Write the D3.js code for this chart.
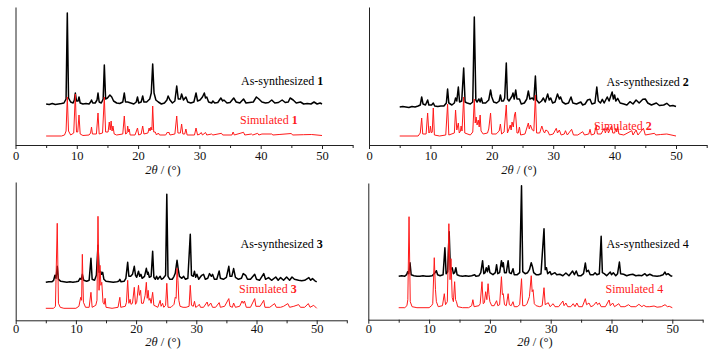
<!DOCTYPE html>
<html>
<head>
<meta charset="utf-8">
<script src="https://cdn.jsdelivr.net/npm/d3@7"></script>
<style>
  html, body { margin: 0; padding: 0; background: #ffffff; }
  svg { display: block; }
  text { font-family: "Liberation Serif", "Times New Roman", serif; }
</style>
</head>
<body>
<svg id="chart" width="710" height="354"></svg>
<script>
// ---- Data (2θ in degrees, intensity in arbitrary units) ----
const xMajorTicks = [0, 10, 20, 30, 40, 50];
const xMinorTicks = [5, 15, 25, 35, 45, 55];
const sampleIds = ["1", "2", "3", "4"];
const expLabel = "As-synthesized ";
const simLabel = "Simulated ";
const axisTitle = ["2", "θ", " / (°)"];

const exp1 = [[5.0,41],[5.5,40.5],[6.0,41.5],[6.5,40.5],[7.0,41],[7.5,41.5],[7.9,42],[8.25,46],[8.45,132],[8.65,47],[9.0,43],[9.4,42],[9.6,45],[9.76,52],[9.95,44],[10.2,44],[10.36,48],[10.55,42],[11.0,41],[11.5,41.5],[12.0,41],[12.25,43],[12.4,45],[12.6,42],[13.0,42],[13.3,45],[13.46,52],[13.65,43],[14.0,42],[14.3,46],[14.49,80],[14.7,46],[15.0,47],[15.4,50],[15.7,48],[16.0,44],[16.5,42],[17.0,41.5],[17.5,43],[17.75,52],[17.95,43],[18.3,43],[18.8,42],[19.3,41],[19.7,43],[19.9,48],[20.1,42],[20.5,43],[20.75,49],[20.95,43],[21.4,43],[21.9,46],[22.15,52],[22.38,81],[22.6,52],[22.9,45],[23.3,43],[23.8,41],[24.3,42],[24.7,45],[24.9,49],[25.2,45],[25.6,42],[26.0,44],[26.3,59],[26.55,46],[26.9,46],[27.1,51],[27.4,45],[27.8,48],[28.1,43],[28.6,42],[29.1,43],[29.45,52],[29.7,44],[30.1,45],[30.5,48],[30.8,52],[31.0,47],[31.2,48],[31.5,43],[32.0,42],[32.2,44],[32.5,42],[33.0,42.5],[33.5,47],[33.8,44],[34.0,45],[34.5,42],[35.0,42.5],[35.6,47],[36.0,43],[36.6,42],[37.2,46],[37.6,42],[38.2,42.5],[38.8,43],[39.3,48],[39.7,46],[40.2,43],[40.8,42],[41.3,42.5],[41.8,45],[42.3,42],[42.9,42.5],[43.5,45],[44.0,42.5],[44.5,43],[44.8,47],[45.3,45],[45.8,42],[46.5,43],[47.0,41],[47.6,41.5],[48.2,41],[48.7,43],[49.2,41],[49.7,42],[50.0,41]];
const sim1 = [[5.0,9],[7.5,9],[8.0,10],[8.25,14],[8.45,48],[8.65,14],[9.0,10],[9.5,12],[9.76,51],[9.95,13],[10.15,13],[10.36,30],[10.55,11],[11.0,9.5],[12.0,10],[12.25,12],[12.4,18],[12.55,11],[13.2,11],[13.46,32],[13.65,11],[14.2,12],[14.49,48],[14.7,13],[15.1,13],[15.3,23],[15.45,15],[15.6,24],[15.75,14],[15.9,19],[16.1,11],[16.5,10],[17.5,11],[17.75,29],[17.95,11],[18.2,12],[18.3,19],[18.45,13],[18.55,16],[18.7,10],[19.5,10],[19.9,17],[20.1,10],[20.5,11],[20.75,19],[20.95,11],[21.6,12],[21.8,17],[21.95,14],[22.1,18],[22.25,15],[22.38,39],[22.55,13],[22.8,13],[23.0,10],[23.3,12],[23.5,10],[24.5,10],[24.8,13],[24.9,12],[25.0,13],[25.2,10],[26.0,11],[26.3,29],[26.5,12],[26.9,12],[27.1,21],[27.3,11],[27.6,11],[27.8,16],[28.0,10],[29.2,10],[29.45,17],[29.7,10],[30.1,11],[30.3,12.5],[30.5,10],[31.0,12.5],[31.2,10],[32.0,11],[32.2,10],[33.6,11.7],[33.8,10],[35.3,10],[35.5,13],[35.7,10],[37.2,12.7],[37.4,10],[38.5,11],[38.7,10],[39.5,11.7],[39.7,10],[40.2,11],[41.8,11],[42.0,10],[43.0,10.5],[45.0,11.5],[45.2,10],[47.0,10.3],[48.3,10.5],[50.0,9.5]];

const exp2 = [[5.0,38],[5.5,38.5],[6.0,38],[6.5,37.5],[7.0,38.5],[7.5,38],[8.0,39],[8.35,40],[8.58,48],[8.8,41],[9.2,40],[9.55,45],[9.75,40],[10.2,40],[10.47,42],[10.7,39],[11.2,38.5],[11.7,39],[12.2,39],[12.6,42],[12.8,56],[13.0,42],[13.5,40],[13.9,42],[14.1,47],[14.3,44],[14.55,58],[14.75,43],[15.1,44],[15.42,77],[15.65,43],[16.0,42],[16.5,41],[16.9,43],[17.15,128],[17.4,45],[17.6,43],[17.9,46],[18.1,43],[18.3,47],[18.5,42],[19.0,42],[19.5,45],[19.8,55],[20.0,48],[20.3,43],[20.8,42],[21.2,44],[21.4,50],[21.6,44],[21.9,44],[22.1,47],[22.36,82],[22.55,46],[22.8,44],[23.0,46],[23.3,49],[23.45,52],[23.65,46],[23.9,55],[24.1,46],[24.5,46],[24.8,41],[25.3,42],[25.7,46],[25.95,54],[26.2,46],[26.6,47],[26.85,45],[27.1,69],[27.3,45],[27.7,42],[28.1,44],[28.4,47],[28.7,43],[29.1,51],[29.35,45],[29.6,47],[29.9,42],[30.3,43],[30.7,51],[31.0,46],[31.2,48],[31.5,43],[32.0,41],[32.5,42],[32.9,48],[33.2,42],[33.8,41],[34.5,43],[34.8,40],[35.2,41],[35.6,45],[36.0,45.7],[36.3,41],[36.8,42],[37.1,58],[37.35,44],[37.7,42],[38.0,45.7],[38.3,42],[38.8,48],[39.1,44],[39.6,53],[39.8,46],[40.0,50],[40.2,44],[40.5,46.7],[40.9,42],[41.5,41],[42.0,40],[42.5,43.3],[43.0,41],[43.5,45],[44.0,42],[44.6,45.7],[45.0,46],[45.4,42],[46.0,40],[46.8,42],[47.3,39.5],[48.0,40],[48.5,41.7],[49.0,39],[49.5,39.5],[50.0,38.5]];
const sim2 = [[5.0,9],[8.0,9],[8.35,12],[8.58,27],[8.75,11],[9.3,11],[9.55,32],[9.75,12],[9.9,13],[10.0,19],[10.15,12],[10.3,13],[10.47,37],[10.65,10],[11.5,9],[12.5,10],[12.8,41],[13.0,10],[13.9,12],[14.1,35],[14.3,15],[14.55,22],[14.7,12],[14.9,14],[15.0,19],[15.15,14],[15.42,48],[15.6,12],[16.5,10],[16.9,13],[17.15,46],[17.3,22],[17.45,28],[17.6,20],[17.8,25],[17.95,18],[18.1,30],[18.25,14],[18.6,11],[19.3,12],[19.5,16],[19.8,32],[20.0,11],[20.7,11],[21.2,14],[21.4,21],[21.6,11],[22.0,13],[22.36,40],[22.55,12],[22.8,16],[23.0,20],[23.15,15],[23.3,23],[23.5,18],[23.7,30],[23.85,33],[24.1,12],[24.3,12],[24.5,18],[24.7,10],[25.4,11],[25.7,17],[25.95,22],[26.1,16],[26.3,20],[26.6,15],[26.85,14],[27.1,50],[27.3,12],[27.8,12],[28.15,19],[28.4,14],[28.6,12],[28.8,15],[29.1,14],[29.4,10],[30.0,11],[30.5,16.7],[30.7,12],[31.0,15],[31.3,10],[31.8,11],[32.0,14.3],[32.3,10],[33.0,15.7],[33.3,10],[34.0,10],[34.8,13.3],[35.1,10],[35.8,11],[36.0,15.7],[36.2,10],[36.7,11],[37.0,19.3],[37.2,11],[37.8,11],[38.3,16.7],[38.5,12],[38.8,17.7],[39.0,12],[39.5,19],[39.7,12],[40.0,12],[40.2,16.7],[40.35,13],[40.5,18.3],[40.7,11],[41.5,10],[42.8,14.3],[43.0,10],[43.5,15],[43.8,10],[44.7,16.7],[45.0,10],[46.5,11.7],[46.7,10],[47.5,10.5],[48.5,11],[50.0,9]];

const exp3 = [[5.0,38],[5.5,38.5],[6.0,38.5],[6.3,40],[6.52,45],[6.7,42],[6.9,54],[7.1,41],[7.5,39],[8.0,38.5],[8.5,38],[9.0,38.5],[9.5,38],[10.0,38.5],[10.4,39],[10.68,42],[10.9,41],[11.07,46],[11.3,40],[11.8,39],[12.2,40],[12.5,62],[12.7,41],[13.1,40],[13.4,45],[13.67,75],[13.85,48],[14.1,49],[14.25,46],[14.45,48],[14.65,41],[15.0,39],[15.6,38.5],[16.2,38],[16.8,38.5],[17.1,39],[17.3,41],[17.5,38.5],[18.0,39],[18.3,42],[18.6,58],[18.8,44],[19.1,44],[19.4,46],[19.7,54],[19.9,45],[20.1,43],[20.4,49],[20.6,44],[20.8,46],[21.0,42],[21.4,44],[21.7,52],[21.9,46],[22.0,48],[22.2,43],[22.5,44],[22.75,69],[22.95,43],[23.2,41],[23.4,44],[23.6,41],[24.0,44],[24.2,41],[24.5,42],[24.9,45],[25.1,126],[25.3,44],[25.6,41],[26.0,41],[26.3,44],[26.5,47],[26.8,60],[27.0,51],[27.2,44],[27.6,42],[27.9,44],[28.2,41],[28.6,42],[29.0,86],[29.2,45],[29.5,44],[29.7,49],[29.9,43],[30.1,46],[30.4,41],[30.9,45],[31.2,46],[31.5,41],[31.9,42],[32.2,46.7],[32.5,44],[32.7,46],[33.0,41],[33.4,41],[33.8,49.3],[34.0,42],[34.5,41],[35.0,43],[35.4,54],[35.6,44],[35.9,44],[36.2,51.7],[36.5,43],[37.0,41],[37.5,42],[37.8,46.7],[38.2,45],[38.5,41],[39.0,41],[39.7,46],[40.0,41],[40.5,40],[41.2,46.7],[41.5,41],[42.0,42.7],[42.5,40],[43.2,43.3],[43.6,40],[44.0,42.7],[44.5,40],[45.0,43.3],[45.5,40],[45.9,43.3],[46.3,41],[47.0,40],[47.5,39.5],[48.0,40],[48.7,42.7],[49.0,40],[49.3,41.7],[49.7,39.5],[50.0,38.5]];
const sim3 = [[5.0,12],[6.3,12],[6.6,14],[6.9,97],[7.1,17],[7.4,13],[8.0,12],[10.0,12],[10.5,14],[10.8,23],[10.95,20],[11.07,66],[11.25,18],[11.6,13],[12.2,13],[12.5,28],[12.7,13],[13.3,15],[13.5,20],[13.67,104],[13.85,30],[14.0,55],[14.15,35],[14.3,38],[14.5,18],[14.7,16],[14.85,22],[15.0,13],[16.0,12],[17.0,13],[17.3,23],[17.45,13],[18.2,14],[18.4,18],[18.6,40],[18.8,17],[19.0,21],[19.15,16],[19.4,17],[19.7,33],[19.9,16],[20.1,18],[20.4,35],[20.55,25],[20.75,30],[20.9,17],[21.2,17],[21.5,25],[21.7,38],[21.85,22],[22.0,30],[22.15,20],[22.3,22],[22.5,17],[22.75,28],[22.95,15],[23.3,14],[23.6,13],[24.0,20],[24.15,14],[24.4,17],[24.6,13],[24.9,15],[25.1,37],[25.3,13],[25.8,13],[26.3,16],[26.5,23],[26.65,22],[26.8,52],[26.95,40],[27.1,20],[27.3,14],[27.8,13],[28.3,13],[28.8,14],[29.0,35],[29.2,15],[29.5,14],[29.7,19],[29.9,13],[30.2,14],[30.5,16],[30.7,13],[31.2,13],[31.8,18.3],[32.0,14],[32.4,17.3],[32.7,13],[33.2,13],[33.8,17.7],[34.0,13],[34.7,14],[35.4,21.7],[35.6,14],[36.0,13],[36.2,17.3],[36.5,13],[37.2,14],[37.6,19.3],[37.8,17],[38.0,19.3],[38.3,13],[39.0,13],[39.7,21.7],[39.9,14],[40.6,14],[41.2,20],[41.4,13],[42.2,13],[43.0,16.7],[43.3,13],[44.0,13],[44.5,14],[45.2,16.7],[45.5,13],[46.2,14],[47.0,15.7],[47.3,13],[48.0,13],[48.6,16.7],[48.9,13],[49.5,15],[50.0,12]];

const exp4 = [[5.0,43.5],[5.5,44],[6.0,43.5],[6.3,45],[6.47,48],[6.65,46],[6.86,57],[7.05,45],[7.5,44],[8.0,43.5],[8.5,43.5],[9.0,44],[9.5,43.5],[10.0,43.5],[10.5,44],[10.97,47],[11.2,49],[11.4,45],[11.8,44],[12.3,45],[12.6,72],[12.8,46],[13.05,48],[13.3,88],[13.5,50],[13.8,52],[14.0,46],[14.2,47],[14.4,52],[14.6,45],[15.0,44],[15.5,43.5],[16.0,44],[16.5,43.5],[17.0,44],[17.5,45],[17.7,43.5],[18.2,44],[18.5,47],[18.8,59],[19.0,46],[19.2,47],[19.4,52],[19.6,48],[19.8,54],[20.0,47],[20.5,45],[20.9,47],[21.1,55],[21.3,46],[21.6,47],[21.9,59],[22.05,53],[22.2,57],[22.4,47],[22.7,47],[23.0,59],[23.2,47],[23.5,46],[23.8,51],[24.0,45],[24.5,45],[24.9,47],[25.2,134],[25.4,48],[25.8,46],[26.2,47],[26.5,50],[26.8,57],[27.0,53],[27.2,47],[27.6,45],[28.0,45],[28.4,46],[28.9,91],[29.1,50],[29.3,52],[29.5,46],[29.9,48],[30.1,45],[30.7,47],[31.0,45],[31.5,45.4],[32.0,44],[32.5,46.7],[33.0,44],[33.6,48.7],[33.9,45],[34.2,48.7],[34.5,44],[35.0,44],[35.4,46],[35.7,56.7],[35.9,48],[36.2,49.4],[36.5,45],[37.0,45],[37.3,47],[37.6,45],[38.0,46],[38.3,83.4],[38.5,47],[38.8,46],[39.2,44],[39.8,47.7],[40.0,45],[40.3,47],[40.7,44],[41.0,46],[41.3,57.7],[41.5,46],[42.0,45.4],[42.5,44],[43.0,45],[43.5,45.4],[44.0,44],[44.5,44.5],[45.0,44],[45.5,46],[45.8,44],[46.3,45.4],[46.8,44],[47.5,43.5],[48.0,44],[48.5,45],[48.8,47.7],[49.0,45],[49.3,46],[49.7,44],[50.0,43.5]];
const sim4 = [[5.0,12],[6.0,12],[6.35,14],[6.5,20],[6.7,103],[6.9,18],[7.2,13],[8.0,12],[10.0,12],[10.4,14],[10.6,16],[10.85,62],[11.05,30],[11.2,18],[11.5,13],[12.2,14],[12.5,26],[12.7,15],[13.0,18],[13.25,96],[13.45,40],[13.6,61],[13.8,22],[14.0,18],[14.2,38],[14.35,20],[14.5,18],[14.7,13],[15.5,12],[16.5,12],[17.0,14],[17.2,20],[17.4,13],[18.2,14],[18.4,16],[18.7,38],[18.9,16],[19.1,17],[19.3,28],[19.5,20],[19.7,36],[19.85,25],[20.0,18],[20.3,14],[20.7,14],[21.1,19],[21.3,14],[21.6,15],[21.9,43],[22.05,25],[22.2,26],[22.4,15],[22.7,14],[23.0,26],[23.2,15],[23.5,14],[23.8,18],[24.0,13],[24.5,13],[24.9,15],[25.2,41],[25.4,14],[25.8,14],[26.1,16],[26.5,23],[26.8,44],[26.95,28],[27.1,30],[27.3,16],[27.6,14],[28.2,13],[28.6,14],[28.9,32],[29.1,15],[29.6,17],[29.9,13],[30.4,16],[30.7,13],[31.3,13],[32.0,18.7],[32.2,14],[32.5,16.7],[32.8,13],[33.3,13],[33.7,16],[34.0,13],[34.3,16.7],[34.6,13],[35.2,13],[35.7,21],[35.9,15],[36.3,16.7],[36.6,13],[37.0,14],[37.5,17.7],[37.7,15],[38.0,16.7],[38.3,13],[39.0,13],[39.6,19.7],[39.8,14],[40.2,16.7],[40.5,13],[41.2,16],[41.5,13],[42.2,13],[42.8,15],[43.2,13],[44.0,13],[44.5,15.4],[45.0,13],[45.3,14.4],[45.7,13],[46.3,13],[47.0,13.7],[47.5,12.5],[48.2,13],[48.8,15],[49.2,13],[49.5,13.4],[50.0,12]];

const expSeries = [exp1, exp2, exp3, exp4];
const simSeries = [sim1, sim2, sim3, sim4];

// ---- Layout (pixels) ----
const panels = [
  { x0: 15.5, x50: 322.0, ytop: 7,   ybot: 145.0, pad: 2, expPos: [241, 85],   simPos: [240, 124],   titleX: 163, titleY: 174, boldId: true },
  { x0: 369.0, x50: 676.0, ytop: 7,  ybot: 145.0, pad: 2, expPos: [606.5, 86], simPos: [594, 130],   titleX: 519, titleY: 174, boldId: true },
  { x0: 15.7, x50: 316.7, ytop: 182, ybot: 320.3, pad: 0, expPos: [240.5, 248], simPos: [239, 293],  titleX: 163, titleY: 346, boldId: true },
  { x0: 368.3, x50: 672.3, ytop: 183, ybot: 319.7, pad: 0, expPos: [606.5, 248], simPos: [605.5, 293], titleX: 535, titleY: 346, boldId: false }
];

const svg = d3.select("#chart");
svg.append("rect").attr("width", 710).attr("height", 354).attr("fill", "#ffffff");

panels.forEach((p, i) => {
  const xEnd = p.x0 + 55 * (p.x50 - p.x0) / 50;
  const x = d3.scaleLinear().domain([0, 55]).range([p.x0, xEnd]);
  const y = d3.scaleLinear().domain([0, 138]).range([p.ybot, p.ybot - 138]);
  const g = svg.append("g");

  // x axis major
  const ax = g.append("g").attr("transform", `translate(0,${p.ybot})`)
    .call(d3.axisBottom(x).tickValues(xMajorTicks).tickSize(4).tickSizeOuter(0).tickPadding(p.pad).tickFormat(d3.format("d")));
  ax.attr("font-family", null);
  ax.selectAll("text").attr("font-size", "12.5px").attr("fill", "#111").style("font-family", "'Liberation Serif', serif");
  ax.selectAll("path, line").attr("stroke", "#222").attr("stroke-width", 1);
  // minor ticks
  const axm = g.append("g").attr("transform", `translate(0,${p.ybot})`)
    .call(d3.axisBottom(x).tickValues(xMinorTicks).tickSize(3).tickSizeOuter(0).tickFormat(""));
  axm.select("path").remove();
  axm.selectAll("line").attr("stroke", "#222");

  // y axis line only
  const yAxisScale = d3.scaleLinear().domain([0, 1]).range([p.ybot, p.ytop]);
  const ay = g.append("g").attr("transform", `translate(${p.x0},0)`)
    .call(d3.axisLeft(yAxisScale).tickValues([]).tickSizeOuter(0));
  ay.select("path").attr("stroke", "#222").attr("stroke-width", 1);

  const line = d3.line().x(d => x(d[0])).y(d => y(d[1]));

  g.append("path").datum(expSeries[i]).attr("d", line)
    .attr("fill", "none").attr("stroke", "#000").attr("stroke-width", 1.5).attr("stroke-linejoin", "round");
  g.append("path").datum(simSeries[i]).attr("d", line)
    .attr("fill", "none").attr("stroke", "#ff1a1a").attr("stroke-width", 1.0).attr("stroke-linejoin", "round");

  // labels
  const t1 = g.append("text").attr("x", p.expPos[0]).attr("y", p.expPos[1])
    .attr("font-size", "12px").attr("fill", "#000");
  t1.append("tspan").text(expLabel);
  t1.append("tspan").attr("font-weight", p.boldId ? "bold" : "normal").text(sampleIds[i]);
  const t2 = g.append("text").attr("x", p.simPos[0]).attr("y", p.simPos[1])
    .attr("font-size", "12px").attr("fill", "#ff1a1a");
  t2.append("tspan").text(simLabel);
  t2.append("tspan").attr("font-weight", p.boldId ? "bold" : "normal").text(sampleIds[i]);

  // axis title
  const tt = g.append("text").attr("x", p.titleX).attr("y", p.titleY)
    .attr("text-anchor", "middle").attr("font-size", "12.5px").attr("fill", "#111");
  tt.append("tspan").attr("font-style", "italic").text(axisTitle[0] + axisTitle[1]);
  tt.append("tspan").text(axisTitle[2]);
});
</script>
</body>
</html>
